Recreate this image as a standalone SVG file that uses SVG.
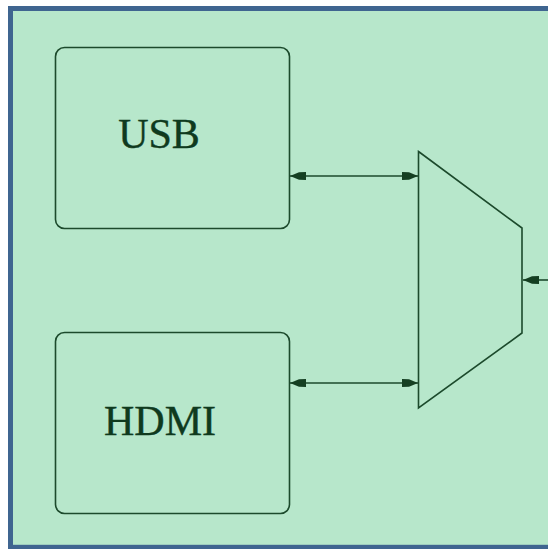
<svg xmlns="http://www.w3.org/2000/svg" width="548" height="549" viewBox="0 0 548 549">
  <defs>
    <style>
      .box { fill: none; stroke: #1c4a2c; stroke-width: 1.6; }
      .wire { fill: none; stroke: #1c4a2c; stroke-width: 1.6; }
      .label { font-family: "Liberation Serif", "Times New Roman", serif; font-size: 42px; fill: #0f3a1e; stroke: #0f3a1e; stroke-width: 0.4; text-anchor: middle; }
    </style>
    <marker id="ah" viewBox="0 -5 16 10" refX="16" refY="0" markerWidth="16" markerHeight="10" markerUnits="userSpaceOnUse" orient="auto-start-reverse">
      <path d="M16,0 L7,-3.8 L0,-4 L0,4 L7,3.8 Z" fill="#153f22"/>
    </marker>
  </defs>
  <rect x="0" y="0" width="548" height="549" fill="#ffffff"/>
  <rect x="10.5" y="8.5" width="560" height="538.8" fill="#b7e7cb" stroke="#3f6590" stroke-width="5"/>

  <g id="usb">
    <rect class="box" x="55.5" y="47.5" width="234" height="181" rx="9" ry="9"/>
    <text class="label" x="159" y="148">USB</text>
  </g>

  <g id="hdmi">
    <rect class="box" x="55.5" y="332.5" width="234" height="181" rx="9" ry="9"/>
    <text class="label" x="160" y="435">HDMI</text>
  </g>

  <g id="mux">
    <polygon class="box" points="418.5,151.5 522,228 522,333 418.5,408"/>
  </g>

  <g id="connectors">
    <line class="wire" x1="290" y1="176" x2="418" y2="176" marker-start="url(#ah)" marker-end="url(#ah)"/>
    <line class="wire" x1="290" y1="383" x2="418" y2="383" marker-start="url(#ah)" marker-end="url(#ah)"/>
    <line class="wire" x1="548" y1="280" x2="523" y2="280" marker-end="url(#ah)"/>
  </g>
</svg>
